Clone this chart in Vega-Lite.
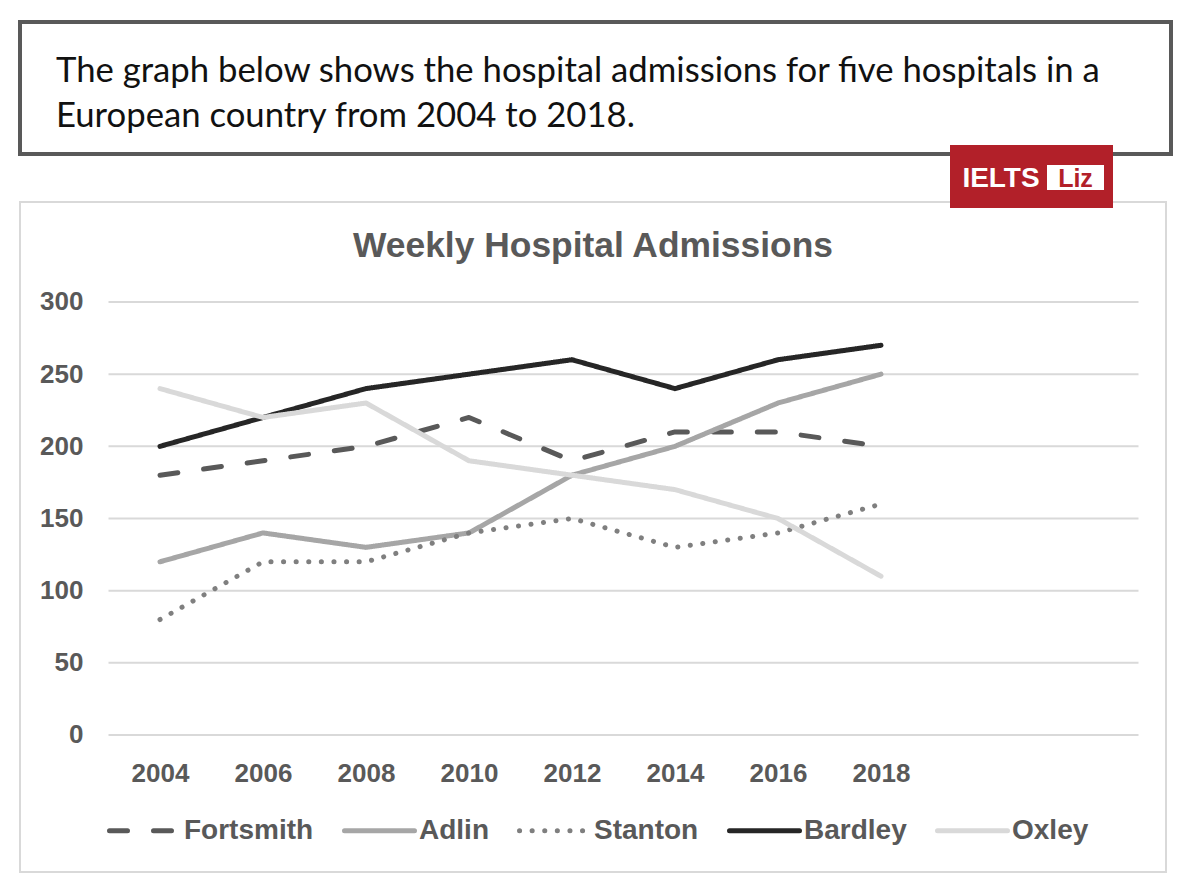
{
  "$schema": "https://vega.github.io/schema/vega-lite/v6.json",
  "background": "white",
  "padding": {"left": 18, "top": 20, "right": 0, "bottom": 0},
  "bounds": "flush",
  "spacing": 48,
  "config": {
    "font": "Liberation Sans",
    "axis": {"labelFont": "Liberation Sans", "labelFontWeight": "bold", "labelColor": "#595959", "labelFontSize": 26},
    "legend": {"labelFont": "Liberation Sans", "labelFontWeight": "bold", "labelColor": "#595959"}
  },
  "vconcat": [
    {
      "width": 1151,
      "height": 132,
      "view": {"stroke": "#595959", "strokeWidth": 4},
      "data": {"values": [{"caption": "The graph below shows the hospital admissions for five hospitals in a\nEuropean country from 2004 to 2018."}]},
      "mark": {"type": "text", "align": "left", "baseline": "middle", "font": "Lato", "fontSize": 34.7, "lineHeight": 45, "lineBreak": "\n", "dx": -539.5, "dy": -16, "color": "#111111"},
      "encoding": {"text": {"field": "caption"}}
    },
    {
      "width": 1146,
      "height": 670,
      "view": {"stroke": "#D9D9D9", "strokeWidth": 2},
      "title": {"text": "Weekly Hospital Admissions", "font": "Liberation Sans", "fontSize": 35.4, "fontWeight": "bold", "color": "#595959", "anchor": "middle", "frame": "group", "baseline": "top", "offset": -119},
      "layer": [
        {
          "data": {"values": [{"level": 0}, {"level": 50}, {"level": 100}, {"level": 150}, {"level": 200}, {"level": 250}, {"level": 300}]},
          "mark": {"type": "rule", "color": "#D9D9D9", "strokeWidth": 2},
          "encoding": {
            "y": {
              "field": "level", "type": "quantitative",
              "scale": {"domain": [-94.92, 369.28], "nice": false, "zero": false},
              "axis": {"values": [0, 50, 100, 150, 200, 250, 300], "title": null, "orient": "left", "offset": -63, "ticks": false, "tickSize": 0, "domain": false, "grid": false, "labelPadding": 0, "labelAlign": "right", "labelBaseline": "middle"}
            },
            "x": {
              "datum": 2003, "type": "quantitative",
              "scale": {"domain": [2001.2816, 2023.534], "nice": false, "zero": false},
              "axis": {"values": [2004, 2006, 2008, 2010, 2012, 2014, 2016, 2018], "format": "d", "title": null, "orient": "bottom", "offset": -112, "ticks": false, "tickSize": 0, "domain": false, "grid": false, "labelPadding": 0, "labelBaseline": "top"}
            },
            "x2": {"datum": 2023}
          }
        },
        {
          "data": {"values": [
            {"hospital": "Fortsmith", "year": 2004, "admissions": 180},
            {"hospital": "Fortsmith", "year": 2006, "admissions": 190},
            {"hospital": "Fortsmith", "year": 2008, "admissions": 200},
            {"hospital": "Fortsmith", "year": 2010, "admissions": 220},
            {"hospital": "Fortsmith", "year": 2012, "admissions": 190},
            {"hospital": "Fortsmith", "year": 2014, "admissions": 210},
            {"hospital": "Fortsmith", "year": 2016, "admissions": 210},
            {"hospital": "Fortsmith", "year": 2018, "admissions": 200},
            {"hospital": "Adlin", "year": 2004, "admissions": 120},
            {"hospital": "Adlin", "year": 2006, "admissions": 140},
            {"hospital": "Adlin", "year": 2008, "admissions": 130},
            {"hospital": "Adlin", "year": 2010, "admissions": 140},
            {"hospital": "Adlin", "year": 2012, "admissions": 180},
            {"hospital": "Adlin", "year": 2014, "admissions": 200},
            {"hospital": "Adlin", "year": 2016, "admissions": 230},
            {"hospital": "Adlin", "year": 2018, "admissions": 250},
            {"hospital": "Stanton", "year": 2004, "admissions": 80},
            {"hospital": "Stanton", "year": 2006, "admissions": 120},
            {"hospital": "Stanton", "year": 2008, "admissions": 120},
            {"hospital": "Stanton", "year": 2010, "admissions": 140},
            {"hospital": "Stanton", "year": 2012, "admissions": 150},
            {"hospital": "Stanton", "year": 2014, "admissions": 130},
            {"hospital": "Stanton", "year": 2016, "admissions": 140},
            {"hospital": "Stanton", "year": 2018, "admissions": 160},
            {"hospital": "Bardley", "year": 2004, "admissions": 200},
            {"hospital": "Bardley", "year": 2006, "admissions": 220},
            {"hospital": "Bardley", "year": 2008, "admissions": 240},
            {"hospital": "Bardley", "year": 2010, "admissions": 250},
            {"hospital": "Bardley", "year": 2012, "admissions": 260},
            {"hospital": "Bardley", "year": 2014, "admissions": 240},
            {"hospital": "Bardley", "year": 2016, "admissions": 260},
            {"hospital": "Bardley", "year": 2018, "admissions": 270},
            {"hospital": "Oxley", "year": 2004, "admissions": 240},
            {"hospital": "Oxley", "year": 2006, "admissions": 220},
            {"hospital": "Oxley", "year": 2008, "admissions": 230},
            {"hospital": "Oxley", "year": 2010, "admissions": 190},
            {"hospital": "Oxley", "year": 2012, "admissions": 180},
            {"hospital": "Oxley", "year": 2014, "admissions": 170},
            {"hospital": "Oxley", "year": 2016, "admissions": 150},
            {"hospital": "Oxley", "year": 2018, "admissions": 110}
          ]},
          "mark": {"type": "line", "strokeWidth": 5, "strokeCap": "round", "strokeJoin": "round"},
          "encoding": {
            "x": {
              "field": "year", "type": "quantitative",
              "scale": {"domain": [2001.2816, 2023.534], "nice": false, "zero": false},
              "axis": {"values": [2004, 2006, 2008, 2010, 2012, 2014, 2016, 2018], "format": "d", "title": null, "orient": "bottom", "offset": -112, "ticks": false, "tickSize": 0, "domain": false, "grid": false, "labelPadding": 0, "labelBaseline": "top"}
            },
            "y": {
              "field": "admissions", "type": "quantitative",
              "scale": {"domain": [-94.92, 369.28], "nice": false, "zero": false},
              "axis": {"values": [0, 50, 100, 150, 200, 250, 300], "title": null, "orient": "left", "offset": -63, "ticks": false, "tickSize": 0, "domain": false, "grid": false, "labelPadding": 0, "labelAlign": "right", "labelBaseline": "middle"}
            },
            "color": {
              "field": "hospital", "type": "nominal",
              "scale": {"domain": ["Fortsmith", "Adlin", "Stanton", "Bardley", "Oxley"], "range": ["#595959", "#A6A6A6", "#7F7F7F", "#262626", "#D9D9D9"]},
              "legend": {"title": null, "orient": "none", "legendX": 87, "legendY": 771, "direction": "horizontal", "columns": 5, "symbolType": "stroke", "symbolSize": 4900, "symbolStrokeWidth": 5, "labelFontSize": 28, "labelOffset": 2, "columnPadding": 20, "encode": {"symbols": {"update": {"strokeCap": {"value": "round"}}}}}
            },
            "strokeDash": {
              "field": "hospital", "type": "nominal",
              "scale": {"domain": ["Fortsmith", "Adlin", "Stanton", "Bardley", "Oxley"], "range": [[18, 26], [1, 0], [0.1, 12.5], [1, 0], [1, 0]]},
              "legend": {"title": null, "orient": "none", "legendX": 87, "legendY": 771, "direction": "horizontal", "columns": 5, "symbolType": "stroke", "symbolSize": 4900, "symbolStrokeWidth": 5, "labelFontSize": 28, "labelOffset": 2, "columnPadding": 20, "encode": {"symbols": {"update": {"strokeCap": {"value": "round"}}}}}
            }
          }
        },
        {
          "data": {"values": [{"brand": "IELTS", "name": "Liz"}]},
          "mark": {"type": "point", "shape": "M1.785,-1.96L2.6,-1.96L2.6,-1.645L1.785,-1.645Z", "size": 160000, "filled": true, "color": "#B22029", "opacity": 1, "strokeWidth": 0},
          "encoding": {}
        },
        {
          "data": {"values": [{"brand": "IELTS", "name": "Liz"}]},
          "mark": {"type": "point", "shape": "M2.27,-1.86L2.555,-1.86L2.555,-1.735L2.27,-1.735Z", "size": 160000, "filled": true, "color": "#FFFFFF", "opacity": 1, "strokeWidth": 0},
          "encoding": {}
        },
        {
          "data": {"values": [{"brand": "IELTS", "name": "Liz"}]},
          "mark": {"type": "text", "font": "Liberation Sans", "fontWeight": "bold", "fontSize": 28, "color": "#FFFFFF", "align": "center", "baseline": "middle", "dx": 408, "dy": -358},
          "encoding": {"text": {"field": "brand"}}
        },
        {
          "data": {"values": [{"brand": "IELTS", "name": "Liz"}]},
          "mark": {"type": "text", "font": "Liberation Sans", "fontWeight": "bold", "fontSize": 25, "color": "#B22029", "align": "center", "baseline": "middle", "dx": 482.5, "dy": -358},
          "encoding": {"text": {"field": "name"}}
        }
      ]
    }
  ]
}
